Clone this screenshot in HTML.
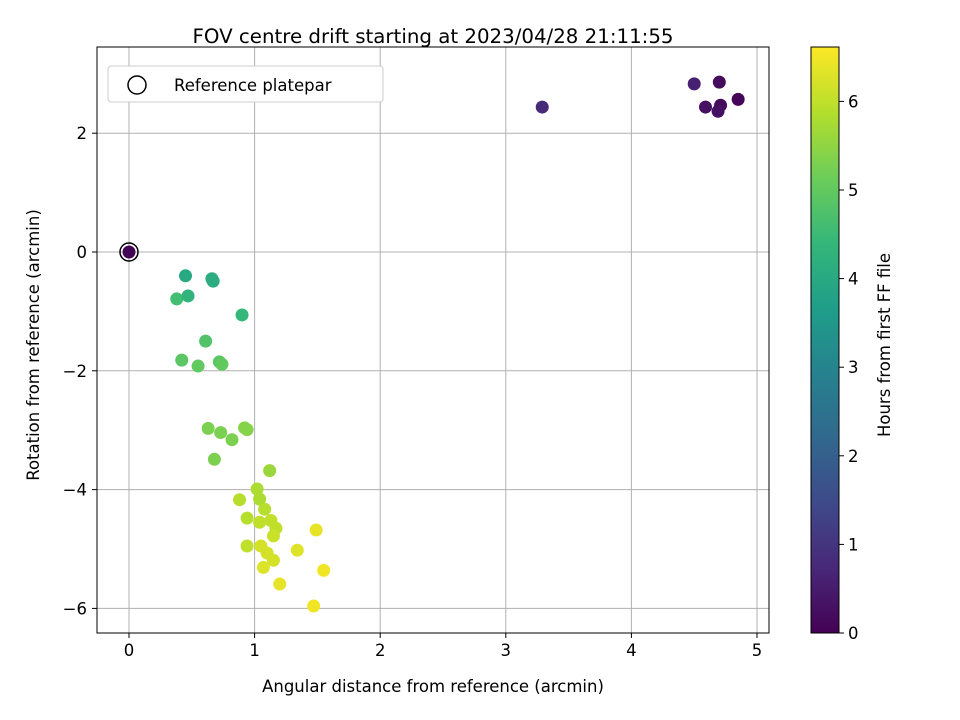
<!DOCTYPE html>
<html><head><meta charset="utf-8"><style>body{margin:0;background:#fff}svg{display:block}text{font-family:"DejaVu Sans","Liberation Sans",sans-serif;fill:#000}</style></head>
<body>
<svg id="c" width="960" height="720"></svg>
<script>
const xs=[3.29,4.50,4.70,4.59,4.71,4.69,4.85,0.0,0.45,0.66,0.67,0.38,0.47,0.90,0.61,0.42,0.55,0.72,0.74,0.92,0.94,0.63,0.73,0.82,0.68,1.12,1.02,1.04,0.88,1.08,0.94,1.04,1.13,1.17,1.15,0.94,1.05,1.10,1.15,1.07,1.34,1.49,1.55,1.20,1.47];
const ys=[2.44,2.83,2.86,2.44,2.47,2.37,2.57,0.0,-0.40,-0.45,-0.49,-0.79,-0.74,-1.06,-1.50,-1.82,-1.92,-1.85,-1.89,-2.96,-2.99,-2.97,-3.04,-3.16,-3.49,-3.68,-3.99,-4.16,-4.17,-4.33,-4.48,-4.55,-4.52,-4.65,-4.78,-4.95,-4.95,-5.07,-5.19,-5.31,-5.02,-4.68,-5.36,-5.59,-5.96];
const hours=[0.8,0.6,0.2,0.3,0.2,0.3,0.1,0.05,4.0,4.1,4.1,4.6,4.3,4.4,4.8,4.9,5.0,4.9,5.0,5.4,5.4,5.3,5.3,5.3,5.3,5.6,5.8,5.8,5.9,5.9,5.9,6.0,6.0,6.0,6.1,6.0,6.2,6.2,6.2,6.3,6.3,6.4,6.5,6.4,6.5];
const xTicks=[0,1,2,3,4,5], yTicks=[2,0,-2,-4,-6], cTicks=[0,1,2,3,4,5,6];
const NS='http://www.w3.org/2000/svg', svg=document.getElementById('c');
const X=v=>129+v*125.6, Y=v=>252-v*59.4, CY=v=>633-v*88.6;
const vir=[[68,1,84],[72,40,120],[62,74,137],[49,104,142],[38,130,142],[31,158,137],[53,183,121],[109,205,89],[180,222,44],[253,231,37]];
function col(t){t=Math.max(0,Math.min(1,t))*9;const i=Math.min(8,Math.floor(t)),f=t-i;const a=vir[i],b=vir[i+1];return 'rgb('+a.map((v,k)=>Math.round(v+(b[k]-v)*f)).join(',')+')';}
function el(t,a,txt){const e=document.createElementNS(NS,t);for(const k in a)e.setAttribute(k,a[k]);if(txt!==undefined)e.textContent=txt;svg.appendChild(e);return e;}
xTicks.forEach(t=>{const g=el('line',{x1:X(t),x2:X(t),y1:47,y2:633,stroke:'#b0b0b0','stroke-width':1});
el('line',{x1:X(t),x2:X(t),y1:633,y2:638,stroke:'#000'});const l=el('text',{x:X(t),y:656,'text-anchor':'middle','font-size':16.5},t);});
yTicks.forEach(t=>{const g=el('line',{x1:97,x2:769,y1:Y(t),y2:Y(t),stroke:'#b0b0b0','stroke-width':1});
el('line',{x1:92,x2:97,y1:Y(t),y2:Y(t),stroke:'#000'});const l=el('text',{x:87,y:Y(t)+6,'text-anchor':'end','font-size':16.5},t==0?'0':(t<0?'−'+(-t):t));});
xs.forEach((x,i)=>{const p=el('circle',{cx:X(x),cy:Y(ys[i]),r:6.5,fill:col(hours[i]/6.62)});});
el('circle',{cx:X(0),cy:Y(0),r:9,fill:'none',stroke:'#000','stroke-width':1.5,});
el('rect',{x:97,y:47,width:672,height:586,fill:'none',stroke:'#000',});
el('rect',{x:108,y:66,width:275,height:36,fill:'#fff',stroke:'#ccc',rx:3,});
el('circle',{cx:137,cy:85,r:9,fill:'none',stroke:'#000','stroke-width':1.5,});
el('text',{x:174,y:91,'font-size':16.5,},'Reference platepar');
el('text',{x:433,y:43,'text-anchor':'middle','font-size':19.8,},'FOV centre drift starting at 2023/04/28 21:11:55');
el('text',{x:433,y:692,'text-anchor':'middle','font-size':16.5,},'Angular distance from reference (arcmin)');
el('text',{x:39,y:345,'text-anchor':'middle','font-size':16.5,transform:'rotate(-90 39 345)',},'Rotation from reference (arcmin)');
const defs=el('defs',{});const lg=document.createElementNS(NS,'linearGradient');lg.setAttribute('id','vg');lg.setAttribute('x1','0');lg.setAttribute('y1','1');lg.setAttribute('x2','0');lg.setAttribute('y2','0');defs.appendChild(lg);
vir.forEach((c,i)=>{const s=document.createElementNS(NS,'stop');s.setAttribute('offset',i/9);s.setAttribute('stop-color','rgb('+c.join(',')+')');lg.appendChild(s);});
el('rect',{x:811,y:47,width:28,height:586,fill:'url(#vg)',stroke:'#000',});
cTicks.forEach(t=>{el('line',{x1:839,x2:844,y1:CY(t),y2:CY(t),stroke:'#000'});const l=el('text',{x:848,y:CY(t)+6,'font-size':16.5},t);});
el('text',{x:890,y:345,'text-anchor':'middle','font-size':16.5,transform:'rotate(-90 890 345)',},'Hours from first FF file');
</script>
</body></html>
